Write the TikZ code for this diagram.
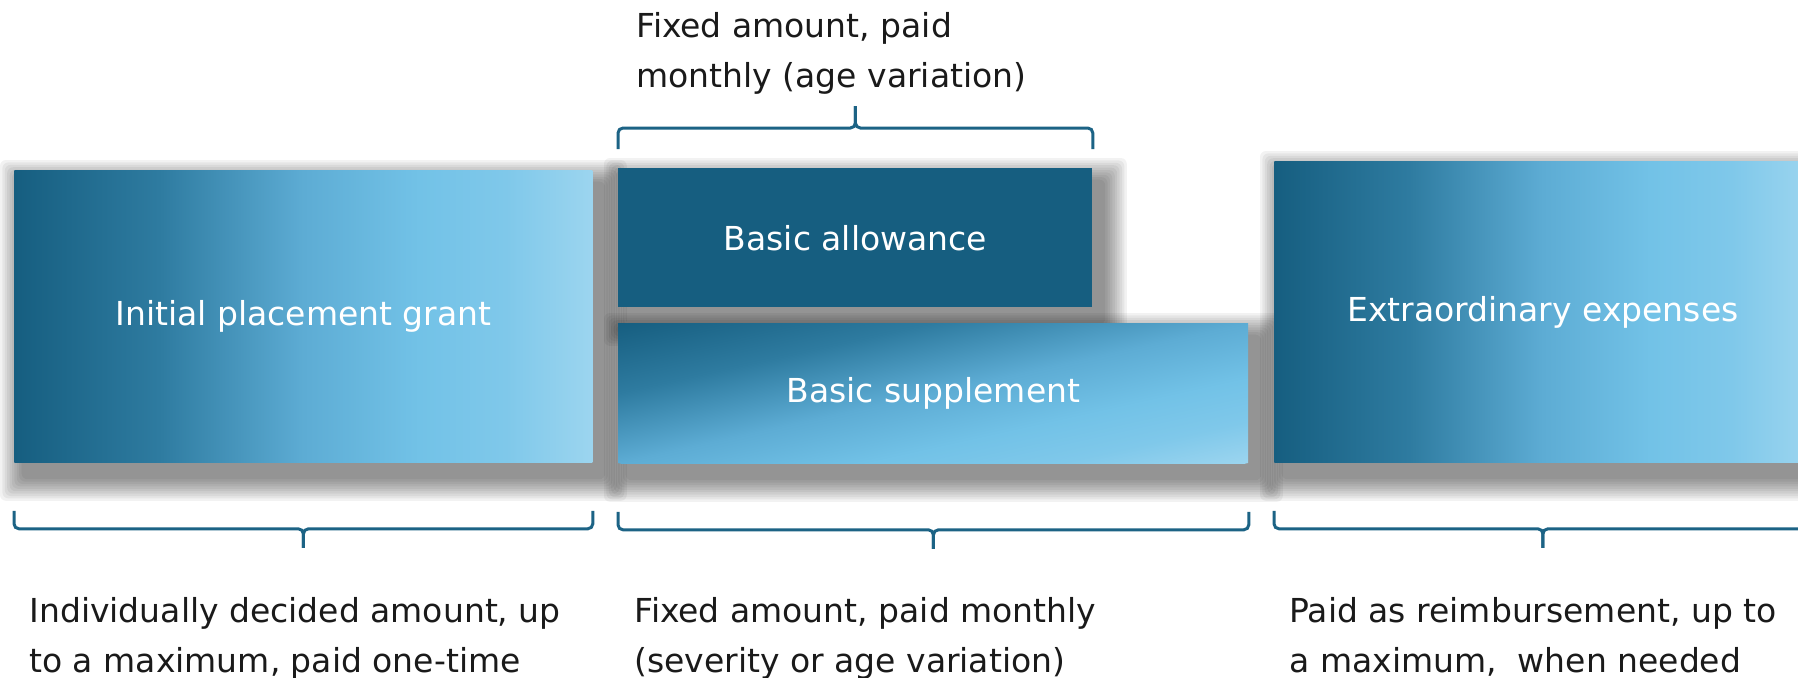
\documentclass[tikz,border=0pt]{standalone}
\usepackage{fontspec}
\setmainfont{DejaVu Sans}
\usetikzlibrary{backgrounds}

\definecolor{deepteal}{HTML}{165E80}
\definecolor{midteal}{HTML}{2E7BA0}
\definecolor{seateal}{HTML}{5DACD4}
\definecolor{skyteal}{HTML}{72C2E7}
\definecolor{lightteal}{HTML}{7FC8EA}
\definecolor{paleteal}{HTML}{9CD5EF}
\definecolor{bracecol}{HTML}{1C6385}
\definecolor{ink}{HTML}{1A1A1A}

\pgfdeclarehorizontalshading{sweep}{100bp}{color(0bp)=(deepteal); color(25bp)=(deepteal);
	color(37.5bp)=(midteal); color(50bp)=(seateal); color(60bp)=(skyteal);
	color(67.5bp)=(lightteal); color(75bp)=(paleteal); color(100bp)=(paleteal)}

\newcommand{\bracebelow}[1]{%
	\draw[brace line] ([yshift=-24pt]#1.south west) |- ([yshift=-33pt]#1.south) -- ([yshift=-42.5pt]#1.south);
	\draw[brace line] ([yshift=-24pt]#1.south east) |- ([yshift=-33pt]#1.south) -- ([yshift=-42.5pt]#1.south);
}
\newcommand{\braceabove}[1]{%
	\draw[brace line] ([yshift=9.5pt]#1.north west) |- ([yshift=20pt]#1.north) -- ([yshift=31pt]#1.north);
	\draw[brace line] ([yshift=9.5pt]#1.north east) |- ([yshift=20pt]#1.north) -- ([yshift=31pt]#1.north);
}
% soft drop shadow, stacked translucent rectangles
\newcommand{\softshadow}[1]{%
	\foreach \k in {1,...,10}
		\fill[black, opacity=0.05, rounded corners=3pt]
			([shift={(5pt-\k*1.2pt,-7pt-\k*1.2pt)}]#1.south west) rectangle
			([shift={(5pt+\k*1.2pt,-7pt+\k*1.2pt)}]#1.north east);
}

\begin{document}
\begin{tikzpicture}[x=0.5pt, y=-0.5pt,
		panel/.style={inner sep=0pt, anchor=north west, text=white,
			font=\fontsize{16.5}{20}\selectfont},
		note/.style={inner sep=0pt, anchor=north west, align=left, text=ink,
			font=\fontsize{16.5}{25}\selectfont},
		brace line/.style={draw=bracecol, line width=1.5pt, rounded corners=2.5pt}]
	\useasboundingbox (0,0) rectangle (1798,677);

	% corner to corner sweep for the supplement box
	\begin{scope}
		\clip (618,323) rectangle (1248,463);
		\begin{scope}[transform canvas={shift={(466.5pt,-196.5pt)}, xscale=3.15, yscale=0.7, rotate=-45}]
			\shade[shading=sweep] (-70.72pt,-70.72pt) rectangle (70.72pt,70.72pt);
		\end{scope}
	\end{scope}

	\node[panel, shading=sweep, minimum width=289pt, minimum height=146pt] (grant) at (14,170) {Initial placement grant};
	\node[panel, fill=deepteal, minimum width=237pt, minimum height=69.5pt] (allowance) at (618,168) {Basic allowance};
	\node[panel, minimum width=315pt, minimum height=70pt] (supplement) at (618,323) {Basic supplement};
	\node[panel, shading=sweep, minimum width=268.5pt, minimum height=150.5pt] (extra) at (1274,161) {Extraordinary expenses};

	\begin{scope}[on background layer]
		\fill[white] (0,0) rectangle (1798,677);
		\softshadow{grant}
		\softshadow{allowance}
		\softshadow{supplement}
		\softshadow{extra}
	\end{scope}

	\braceabove{allowance}
	\bracebelow{grant}
	\bracebelow{supplement}
	\bracebelow{extra}

	\node[note] (topnote) at (636,12) {Fixed amount, paid\\monthly (age variation)};
	\node[note] (grantnote) at (29,597) {Individually decided amount, up\\to a maximum, paid one-time};
	\node[note] (suppnote) at (634,597) {Fixed amount, paid monthly\\(severity or age variation)};
	\node[note] (extranote) at (1289,597) {Paid as reimbursement, up to\\a maximum,\ \ when needed};
\end{tikzpicture}
\end{document}
